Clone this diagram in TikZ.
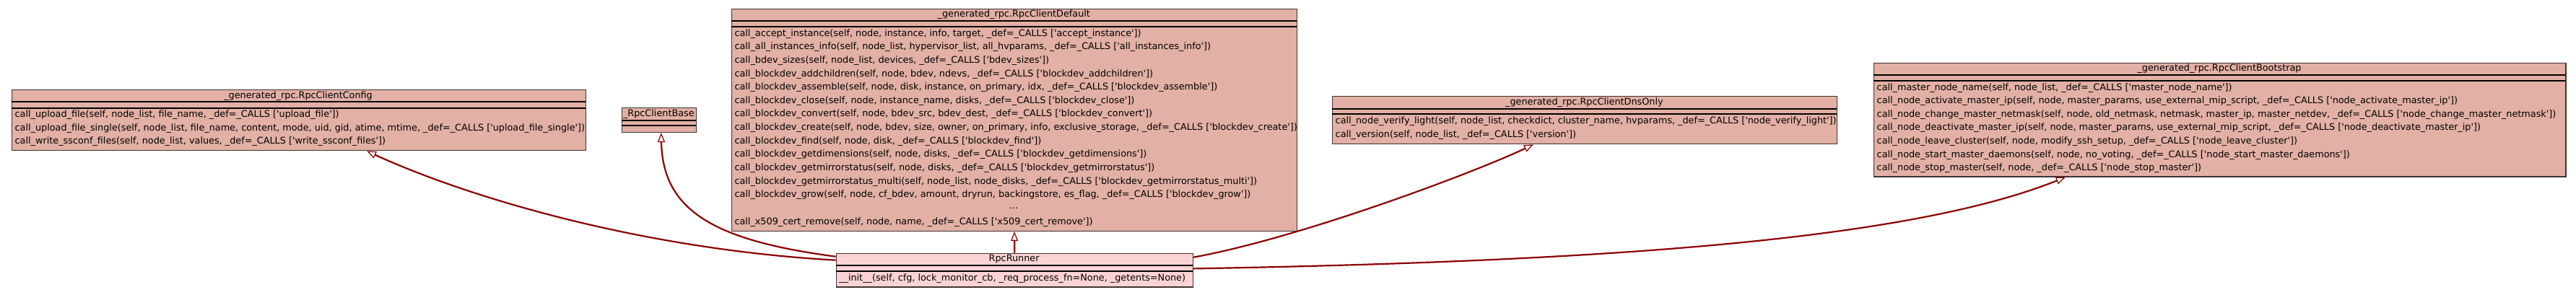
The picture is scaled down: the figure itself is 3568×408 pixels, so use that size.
\documentclass[tikz,border=0pt]{standalone}
\usepackage{fontspec}
\newfontfamily\umlfont{DejaVu Sans}
\usetikzlibrary{arrows.meta}
\definecolor{clsfill}{RGB}{226,176,164}
\definecolor{runfill}{RGB}{252,211,213}
\definecolor{edgecol}{RGB}{139,0,0}
\definecolor{bordercol}{RGB}{62,52,50}
\tikzset{
  clsbox/.style={draw=bordercol, line width=1.4pt, fill=clsfill, inner sep=0pt, anchor=north west},
  sepline/.style={draw=black, line width=1.9pt},
  rowtext/.style={inner sep=0pt, anchor=west, font=\umlfont\fontsize{12.8}{15}\selectfont},
  titletext/.style={inner sep=0pt, anchor=center, font=\umlfont\fontsize{12.8}{15}\selectfont},
  inherit/.style={draw=edgecol, line width=2.2pt, -{Triangle[open, length=13pt, width=10pt, line width=1.2pt, fill=white]}},
}
% #1 name, #2 x1, #3 y1, #4 x2, #5 y2, #6 sep1, #7 sep2, #8 extra style, #9 title
\newcommand\ClassBox[9]{%
  \node[clsbox, #8, minimum width={(#4-#2)*1pt}, minimum height={(#5-#3)*1pt}] (#1) at (#2,#3) {};
  \draw[sepline] (#2,#6) -- (#4,#6);
  \draw[sepline] (#2,#7) -- (#4,#7);
  \node[titletext] (#1-title) at ({(#2+#4)/2},{(#3+#6)/2}) {#9};
}
% #1 name prefix, #2 x, #3 y0, #4 step, #5 list
\newcommand\ClassRows[5]{%
  \foreach \t [count=\i from 0] in {#5} {\node[rowtext] (#1-row\i) at (#2,{#3+\i*#4}) {\t};}
}
\begin{document}
\begin{tikzpicture}[x=1pt,y=-1pt]
\useasboundingbox[fill=white] (0,0) rectangle (3568,408);

% RpcClientConfig
\ClassBox{config}{15.5}{124}{810.6}{208}{141.3}{150}{}{\_generated\_rpc.RpcClientConfig}
\ClassRows{config}{20.5}{159.3}{18.35}{%
{call\_upload\_file(self, node\_list, file\_name, \_def=\_CALLS ['upload\_file'])},
{call\_upload\_file\_single(self, node\_list, file\_name, content, mode, uid, gid, atime, mtime, \_def=\_CALLS ['upload\_file\_single'])},
{call\_write\_ssconf\_files(self, node\_list, values, \_def=\_CALLS ['write\_ssconf\_files'])}}

% RpcClientBase
\ClassBox{base}{860.7}{149}{964}{182.7}{166.7}{174.3}{}{\_RpcClientBase}

% RpcClientDefault
\ClassBox{default}{1012.8}{11.7}{1795.8}{319.5}{29.3}{36.7}{}{\_generated\_rpc.RpcClientDefault}
\ClassRows{default}{1017.3}{46.7}{18.65}{%
{call\_accept\_instance(self, node, instance, info, target, \_def=\_CALLS ['accept\_instance'])},
{call\_all\_instances\_info(self, node\_list, hypervisor\_list, all\_hvparams, \_def=\_CALLS ['all\_instances\_info'])},
{call\_bdev\_sizes(self, node\_list, devices, \_def=\_CALLS ['bdev\_sizes'])},
{call\_blockdev\_addchildren(self, node, bdev, ndevs, \_def=\_CALLS ['blockdev\_addchildren'])},
{call\_blockdev\_assemble(self, node, disk, instance, on\_primary, idx, \_def=\_CALLS ['blockdev\_assemble'])},
{call\_blockdev\_close(self, node, instance\_name, disks, \_def=\_CALLS ['blockdev\_close'])},
{call\_blockdev\_convert(self, node, bdev\_src, bdev\_dest, \_def=\_CALLS ['blockdev\_convert'])},
{call\_blockdev\_create(self, node, bdev, size, owner, on\_primary, info, exclusive\_storage, \_def=\_CALLS ['blockdev\_create'])},
{call\_blockdev\_find(self, node, disk, \_def=\_CALLS ['blockdev\_find'])},
{call\_blockdev\_getdimensions(self, node, disks, \_def=\_CALLS ['blockdev\_getdimensions'])},
{call\_blockdev\_getmirrorstatus(self, node, disks, \_def=\_CALLS ['blockdev\_getmirrorstatus'])},
{call\_blockdev\_getmirrorstatus\_multi(self, node\_list, node\_disks, \_def=\_CALLS ['blockdev\_getmirrorstatus\_multi'])},
{call\_blockdev\_grow(self, node, cf\_bdev, amount, dryrun, backingstore, es\_flag, \_def=\_CALLS ['blockdev\_grow'])}}
\node[titletext] (default-dots) at (1404.3,289.1) {...};
\node[rowtext] (default-last) at (1017.3,307.8) {call\_x509\_cert\_remove(self, node, name, \_def=\_CALLS ['x509\_cert\_remove'])};

% RpcClientDnsOnly
\ClassBox{dns}{1844.9}{132.7}{2543.9}{199}{150.7}{158.3}{}{\_generated\_rpc.RpcClientDnsOnly}
\ClassRows{dns}{1849.5}{167.7}{19}{%
{call\_node\_verify\_light(self, node\_list, checkdict, cluster\_name, hvparams, \_def=\_CALLS ['node\_verify\_light'])},
{call\_version(self, node\_list, \_def=\_CALLS ['version'])}}

% RpcClientBootstrap
\ClassBox{boot}{2594.8}{86.7}{3553.2}{244.3}{103.7}{111.7}{}{\_generated\_rpc.RpcClientBootstrap}
\ClassRows{boot}{2599.5}{121.7}{18.6}{%
{call\_master\_node\_name(self, node\_list, \_def=\_CALLS ['master\_node\_name'])},
{call\_node\_activate\_master\_ip(self, node, master\_params, use\_external\_mip\_script, \_def=\_CALLS ['node\_activate\_master\_ip'])},
{call\_node\_change\_master\_netmask(self, node, old\_netmask, netmask, master\_ip, master\_netdev, \_def=\_CALLS ['node\_change\_master\_netmask'])},
{call\_node\_deactivate\_master\_ip(self, node, master\_params, use\_external\_mip\_script, \_def=\_CALLS ['node\_deactivate\_master\_ip'])},
{call\_node\_leave\_cluster(self, node, modify\_ssh\_setup, \_def=\_CALLS ['node\_leave\_cluster'])},
{call\_node\_start\_master\_daemons(self, node, no\_voting, \_def=\_CALLS ['node\_start\_master\_daemons'])},
{call\_node\_stop\_master(self, node, \_def=\_CALLS ['node\_stop\_master'])}}

% RpcRunner
\ClassBox{runner}{1157.6}{350.7}{1651.6}{397.3}{367.7}{376}{fill=runfill}{RpcRunner}
\node[rowtext] (runner-row0) at (1162,386.5) {\_\_init\_\_(self, cfg, lock\_monitor\_cb, \_req\_process\_fn=None, \_getents=None)};

% inheritance edges
\draw[inherit] ([yshift=14pt]runner.west) .. controls (880,345) and (640,270) .. ([xshift=492.5pt]config.south west);
\draw[inherit] ([yshift=19pt]runner.west) .. controls (985,333) and (918,290) .. ([xshift=55pt]base.south west);
\draw[inherit] (runner.north) -- (default.south);
\draw[inherit] ([yshift=18pt]runner.east) .. controls (1800,330) and (2040,240) .. ([xshift=279pt]dns.south west);
\draw[inherit] ([yshift=2.3pt]runner.east) .. controls (2250,362) and (2650,330) .. ([xshift=266pt]boot.south west);
\end{tikzpicture}
\end{document}
